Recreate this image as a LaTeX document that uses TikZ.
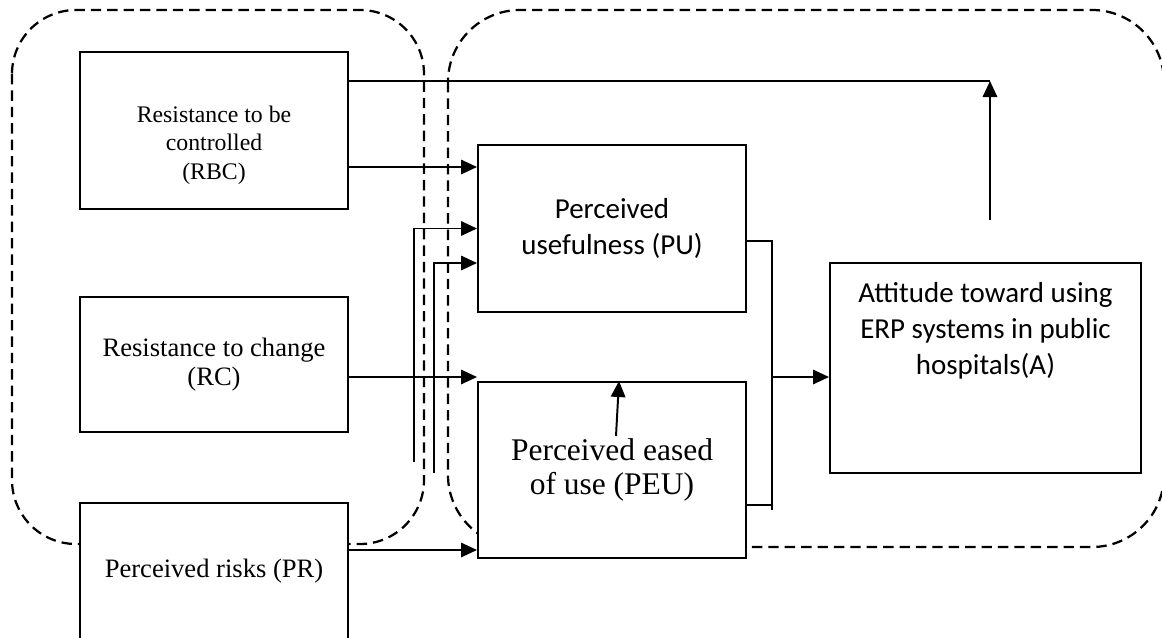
\documentclass[tikz,border=0pt]{standalone}
\usepackage{fontspec}
\setmainfont{Liberation Serif}
\newfontfamily\calibri{Carlito}
\usetikzlibrary{arrows.meta, positioning, calc}

\begin{document}
\begin{tikzpicture}[
    x=0.25mm, y=-0.25mm,
    box/.style={draw, line width=1.4pt, fill=white, inner sep=0pt, align=center, minimum width=#1},
    region/.style={draw, line width=1.6pt, dash pattern=on 2.6mm off 1.5mm, rounded corners=16mm},
    serif/.style 2 args={font=\fontsize{#1}{#2}\selectfont, align=center, inner sep=0pt},
    sans/.style={font=\calibri\fontsize{20.6}{25.6}\selectfont, align=center, inner sep=0pt},
    link/.style={line width=1.4pt},
    arrow/.style={-{Triangle[length=4mm, width=3.6mm]}, line width=1.4pt}
]
    \clip (0,0) rectangle (1162,637);

    % Groups
    \draw[region] (12,10) rectangle (424,544);
    \draw[region, rounded corners=18mm] (448,10) rectangle (1164,547);

    % Left column
    \node[box=67mm, minimum height=39.25mm] (rbc) at (214,130.5) {};
    \node[serif={16.9}{20.3}] (rbc-text) at (214,145) {Resistance to be\\controlled\\(RBC)};
    \node[box=67mm, minimum height=33.75mm, serif={18.9}{20.8}] (rc) at (214,364.5) {Resistance to change\\(RC)};
    \node[box=67mm, minimum height=34.25mm, serif={18.9}{20.8}] (pr) at (214,571.5) {Perceived risks (PR)};

    % Middle column
    \node[box=67mm, minimum height=41.75mm, sans] (pu) at (612,228.5) {Perceived\\usefulness (PU)};
    \node[box=67mm, minimum height=44mm, serif={22.4}{24.2}] (peu) at (612,470) {Perceived eased\\of use (PEU)};

    % Right column
    \node[box=77.75mm, minimum height=52.5mm] (att) at (985.5,368) {};
    \node[sans] (att-text) at (985.5,331) {Attitude toward using\\ERP systems in public\\hospitals(A)};

    % Connections
    \coordinate (corner) at (990,81);
    \coordinate (rise) at (990,220);
    \coordinate (fb1) at (414,462);
    \coordinate (fb2) at (434,473);
    \coordinate (peu-up) at (616,436);
    \coordinate (jn) at (772,377);

    \draw[link] (rbc.east |- corner) -- (corner);
    \draw[arrow] (rise) -- (corner);
    \draw[arrow] (rbc.east |- 0,167) -- (pu.west |- 0,167);
    \draw[arrow] (fb1) |- (pu.west);
    \draw[arrow] (fb2) |- (pu.west |- 0,263);
    \draw[arrow] (rc.east |- 0,377) -- (peu.west |- 0,377);
    \draw[arrow] (pr.east |- 0,550) -- (peu.west |- 0,550);
    \draw[arrow] (peu-up) -- ([xshift=1.75mm]peu.north);
    \draw[link] (pu.east |- 0,241) -| (772,510);
    \draw[link] (peu.east |- 0,505) -- (772,505);
    \draw[arrow] (jn) -- (att.west |- jn);
\end{tikzpicture}
\end{document}
